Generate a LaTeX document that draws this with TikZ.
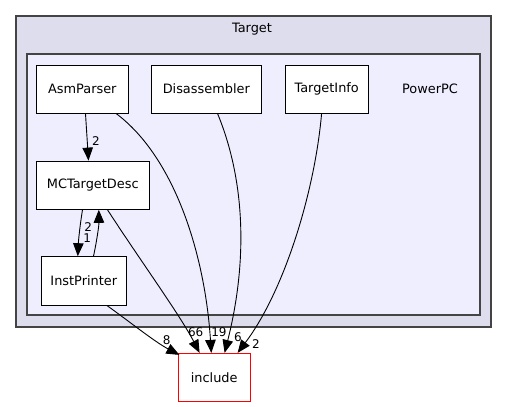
\documentclass[tikz,border=0pt]{standalone}
\usepackage{fontspec}
\setmainfont{DejaVu Sans}
\usetikzlibrary{arrows.meta}
\definecolor{outerfill}{HTML}{DDDDEE}
\definecolor{innerfill}{HTML}{EEEEFF}
\definecolor{clborder}{HTML}{444444}
\begin{document}
\begin{tikzpicture}[x=1pt,y=-1pt,
  dirbox/.style={draw=black,fill=white,line width=0.9pt,inner sep=0pt,font=\fontsize{12.9}{14}\selectfont},
  dep/.style={draw=black,line width=0.9pt,-{Triangle[length=13pt,width=10.5pt]}},
  elab/.style={font=\fontsize{12}{13}\selectfont,inner sep=0pt},
  cllab/.style={font=\fontsize{12.9}{14}\selectfont,inner sep=0pt}]
\useasboundingbox (0,0) rectangle (507,407);
\fill[white] (0,0) rectangle (507,407);
\draw[clborder,fill=outerfill,line width=1.2pt] (16,16) rectangle (491,327);
\node[cllab] (tl) at (252,29) {Target};
\draw[clborder,fill=innerfill,line width=1.2pt] (27,54) rectangle (480,315);
\node[cllab] (pl) at (430,89) {PowerPC};

\node[dirbox,minimum width=91.3pt,minimum height=48.3pt] (asm) at (82.3,89.2) {AsmParser};
\node[dirbox,minimum width=109.3pt,minimum height=48pt] (dis) at (206.3,89) {Disassembler};
\node[dirbox,minimum width=83.3pt,minimum height=48pt] (ti) at (326.7,89) {TargetInfo};
\node[dirbox,minimum width=112.3pt,minimum height=48.3pt] (mc) at (92.8,185.2) {MCTargetDesc};
\node[dirbox,minimum width=85.7pt,minimum height=48.3pt] (ip) at (83.8,280.8) {InstPrinter};
\node[dirbox,draw=red,minimum width=71.7pt,minimum height=47.7pt] (inc) at (214.2,377.2) {include};

% AsmParser -> MCTargetDesc
\draw[dep] ([xshift=49.3pt]asm.south west) -- ([xshift=52.3pt]mc.north west);
\node[elab] (l1) at (96,141) {2};
% AsmParser -> include
\draw[dep] ([xshift=80.3pt]asm.south west) .. controls (175,158) and (205,255) .. ([xshift=33.4pt]inc.north west);
\node[elab] (l2) at (219,332) {19};
% Disassembler -> include
\draw[dep] ([xshift=66.3pt]dis.south west) .. controls (245,180) and (248,260) .. ([xshift=46.7pt]inc.north west);
\node[elab] (l3) at (238,337) {6};
% TargetInfo -> include
\draw[dep] ([xshift=37pt]ti.south west) .. controls (315,190) and (285,290) .. ([xshift=59.7pt]inc.north west);
\node[elab] (l4) at (256,344) {2};
% MCTargetDesc -> include
\draw[dep] ([xshift=71.3pt]mc.south west) .. controls (140,260) and (180,315) .. ([xshift=21.7pt]inc.north west);
\node[elab] (l5) at (195.7,332) {66};
% InstPrinter -> include
\draw[dep] ([xshift=66.3pt]ip.south west) .. controls (130,322) and (155,342) .. ([xshift=1.5pt,yshift=-2pt]inc.north west);
\node[elab] (l6) at (166.7,340) {8};
% MCTargetDesc -> InstPrinter
\draw[dep] ([xshift=46.3pt]mc.south west) .. controls (80,225) and (78.5,240) .. ([xshift=37.3pt]ip.north west);
\node[elab] (l7) at (88.3,226.7) {2};
% InstPrinter -> MCTargetDesc
\draw[dep] ([xshift=53pt]ip.north west) .. controls (97,240) and (99,225) .. ([xshift=62.6pt]mc.south west);
\node[elab] (l8) at (87.3,237.7) {1};
\end{tikzpicture}
\end{document}
